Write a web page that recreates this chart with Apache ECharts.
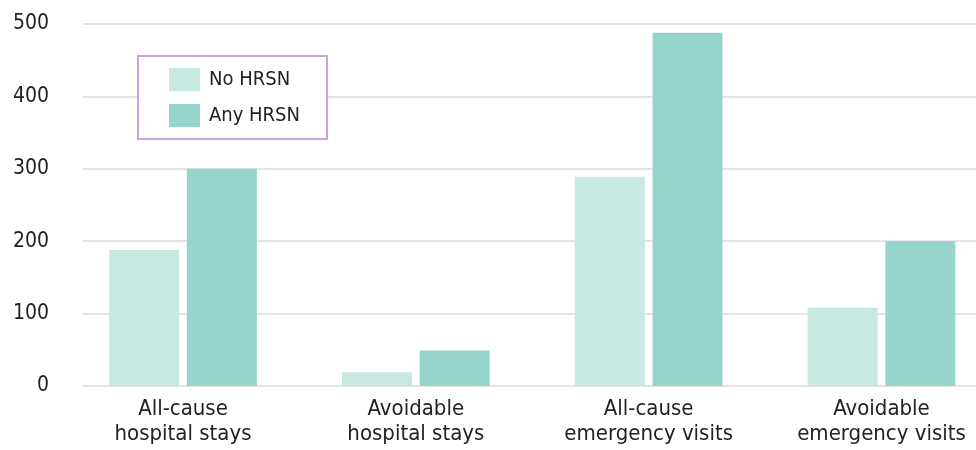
<!DOCTYPE html>
<html>
<head>
<meta charset="utf-8">
<script src="https://cdn.jsdelivr.net/npm/echarts@6/dist/echarts.min.js"></script>
<style>
  html, body { margin: 0; padding: 0; background: #ffffff; }
  #chart { width: 976px; height: 450px; }
</style>
</head>
<body>
<div id="chart"></div>
<script>
// Rates per category for patients without / with health-related social needs
const categories = [
  'All-cause\nhospital stays',
  'Avoidable\nhospital stays',
  'All-cause\nemergency visits',
  'Avoidable\nemergency visits'
];
const noHrsn = [188, 19, 289, 108];
const anyHrsn = [300, 49, 488, 200];
const yTicks = { min: 0, max: 500, interval: 100 };

const FONT = '"Liberation Sans Narrow", "DejaVu Sans Condensed", Roboto, sans-serif';
const TEXT = '#222222';

const chart = echarts.init(document.getElementById('chart'), null, { renderer: 'canvas' });

chart.setOption({
  animation: false,
  backgroundColor: '#ffffff',
  grid: [
    // bars: category ticks sit on the group centres
    { left: 183, right: 94.5, top: 24, height: 362, containLabel: false },
    // horizontal rules and value labels
    { left: 83, right: 0, top: 24, height: 362, containLabel: false }
  ],
  legend: {
    data: ['No HRSN', 'Any HRSN'],
    orient: 'vertical',
    left: 138,
    top: 56,
    itemWidth: 31,
    itemHeight: 23,
    itemGap: 13,
    padding: [12, 27, 12, 31],
    borderColor: '#c9a3d9',
    borderWidth: 2,
    borderRadius: 0,
    backgroundColor: '#ffffff',
    icon: 'rect',
    textStyle: { fontFamily: FONT, fontSize: 20, color: TEXT, padding: [0, 0, 0, 4] }
  },
  xAxis: [
    {
      type: 'category',
      gridIndex: 0,
      data: categories,
      boundaryGap: false,
      axisLine: { show: false },
      axisTick: { show: false },
      splitLine: { show: false },
      axisLabel: {
        margin: 11,
        fontFamily: FONT,
        fontSize: 22,
        lineHeight: 25,
        color: TEXT,
        interval: 0
      }
    },
    {
      type: 'value',
      gridIndex: 1,
      show: false,
      min: 0,
      max: 1
    }
  ],
  yAxis: [
    {
      type: 'value',
      gridIndex: 0,
      min: yTicks.min,
      max: yTicks.max,
      interval: yTicks.interval,
      show: false
    },
    {
      type: 'value',
      gridIndex: 1,
      min: yTicks.min,
      max: yTicks.max,
      interval: yTicks.interval,
      axisLine: { show: false },
      axisTick: { show: false },
      splitLine: { show: true, lineStyle: { color: '#e4e4e4', width: 2 } },
      axisLabel: {
        margin: 34,
        fontFamily: FONT,
        fontSize: 21,
        color: TEXT
      }
    }
  ],
  series: [
    {
      name: 'No HRSN',
      type: 'bar',
      xAxisIndex: 0,
      yAxisIndex: 0,
      data: noHrsn,
      barWidth: 70,
      barGap: '11%',
      itemStyle: { color: '#c8e8e2' }
    },
    {
      name: 'Any HRSN',
      type: 'bar',
      xAxisIndex: 0,
      yAxisIndex: 0,
      data: anyHrsn,
      barWidth: 70,
      barGap: '11%',
      itemStyle: { color: '#97d4cb' }
    }
  ]
});
</script>
</body>
</html>
